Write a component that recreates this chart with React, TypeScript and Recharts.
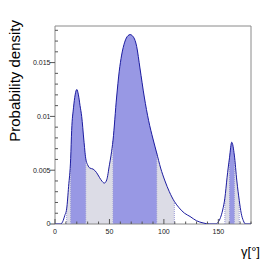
import React from 'react';
import { ComposedChart, Area, Line, XAxis, YAxis, ReferenceLine, ReferenceArea, Label } from 'recharts';

const angles = [0, 5, 7, 9, 10.7, 12.5, 14.4, 15.3, 17, 18.5, 20, 21.5, 23, 24.5, 26.5, 28.2, 30, 32, 35, 38, 41, 43, 45.3, 47.5, 50, 51.5, 53.3, 56.6, 59, 61.2, 64, 67, 69, 71, 75, 78, 82, 86, 90, 93.4, 97, 101, 105, 109.6, 114, 119, 124, 130, 136, 142, 148, 150, 152, 154, 156, 158, 160.3, 162.3, 164.7, 167, 169.2, 171, 173, 175, 180];
const density = [0, 0, 0.0002, 0.0008, 0.0014, 0.0035, 0.0061, 0.0087, 0.0108, 0.012, 0.0125, 0.012, 0.011, 0.01, 0.0078, 0.0061, 0.0055, 0.0052, 0.0051, 0.0048, 0.0043, 0.004, 0.0038, 0.0041, 0.0055, 0.0064, 0.0078, 0.0118, 0.0142, 0.0157, 0.0169, 0.0175, 0.0176, 0.0175, 0.0165, 0.0145, 0.0118, 0.0096, 0.0079, 0.0066, 0.0052, 0.004, 0.003, 0.0021, 0.0015, 0.001, 0.0007, 0.0003, 0.0001, 0, 0, 0.0002, 0.0006, 0.0013, 0.0024, 0.0043, 0.0062, 0.0076, 0.0064, 0.004, 0.0022, 0.001, 0.0003, 0, 0];

const lightIntervals: number[][] = [[10.7, 109.6], [156, 169.2]];
const darkIntervals: number[][] = [[14.4, 28.2], [53.3, 93.4], [160.3, 164.7]];

const xTicks = [0, 10, 20, 30, 40, 50, 60, 70, 80, 90, 100, 110, 120, 130, 140, 150, 160, 170, 180];
const xMajor = [0, 50, 100, 150];
const yTicks = [0, 0.001, 0.002, 0.003, 0.004, 0.005, 0.006, 0.007, 0.008, 0.009, 0.01, 0.011, 0.012, 0.013, 0.014, 0.015, 0.016, 0.017, 0.018];
const yMajor = [0, 0.005, 0.01, 0.015];
const yMajorLabels = ['0', '0.005', '0.01', '0.015'];
const yMax = 0.0184;

const inside = (x: number, ivs: number[][]) => ivs.some(([a, b]) => x >= a - 1e-9 && x <= b + 1e-9);

const data = angles.map((a, i) => ({
  a,
  d: density[i],
  light: inside(a, lightIntervals) ? density[i] : null,
  dark: inside(a, darkIntervals) ? density[i] : null,
}));

const densityAt = (x: number) => {
  const i = angles.indexOf(x);
  return i >= 0 ? density[i] : 0;
};

const boundaries: number[] = [...lightIntervals.flat(), ...darkIntervals.flat()];

const FONT = '"Liberation Sans", Arial, Helvetica, sans-serif';

const XTick = (props: any) => {
  const { x, y, payload } = props;
  const v = payload.value;
  const major = xMajor.includes(v);
  return (
    <g>
      <line x1={x} x2={x} y1={y} y2={y - (major ? 5 : 2.5)} stroke="#555" strokeWidth={1} />
      {major && (
        <text x={x} y={y + 9.5} textAnchor="middle" fontSize={7} fontFamily={FONT} fill="#222">
          {v}
        </text>
      )}
    </g>
  );
};

const YTick = (props: any) => {
  const { x, y, payload } = props;
  const v = payload.value;
  const idx = yMajor.findIndex((m) => Math.abs(m - v) < 1e-9);
  const major = idx >= 0;
  return (
    <g>
      {major ? (
        <line x1={x} x2={x - 5} y1={y} y2={y} stroke="#555" strokeWidth={1} />
      ) : (
        <line x1={x} x2={x + 3} y1={y} y2={y} stroke="#555" strokeWidth={1} />
      )}
      {major && (
        <text x={x - 4.5} y={y} dy="0.35em" textAnchor="end" fontSize={7} fontFamily={FONT} fill="#222">
          {yMajorLabels[idx]}
        </text>
      )}
    </g>
  );
};

const YTitle = (props: any) => {
  const vb = props.viewBox;
  const tx = vb.x + 20;
  const ty = vb.y - 6;
  return (
    <text x={tx} y={ty} transform={`rotate(-90 ${tx} ${ty})`} textAnchor="end" fontSize={15} fontFamily={FONT} fill="#000">
      Probability density
    </text>
  );
};

const XTitle = (props: any) => {
  const vb = props.viewBox;
  const tx = vb.x + vb.width + 9;
  const ty = vb.y + 32;
  return (
    <text x={tx} y={ty} textAnchor="end" fontSize={13} fontFamily={FONT} fill="#000">
      γ[°]
    </text>
  );
};

export default function App() {
  return (
    <div style={{ position: 'absolute', left: 0, top: 0, background: '#fff' }}>
      <ComposedChart width={279} height={265} data={data} margin={{ top: 26, right: 28, bottom: 0, left: 0 }}>
        <XAxis
          dataKey="a"
          type="number"
          domain={[0, 180]}
          ticks={xTicks}
          interval={0}
          allowDataOverflow
          height={41}
          tickSize={0}
          tickMargin={0}
          tickLine={false}
          axisLine={false}
          tick={<XTick />}
        >
          <Label content={<XTitle />} />
        </XAxis>
        <YAxis
          type="number"
          domain={[0, yMax]}
          ticks={yTicks}
          interval={0}
          allowDataOverflow
          width={55}
          tickSize={0}
          tickMargin={0}
          tickLine={false}
          axisLine={false}
          tick={<YTick />}
        >
          <Label content={<YTitle />} />
        </YAxis>
        <Area type="monotone" dataKey="light" stroke="none" fill="#dcdce6" fillOpacity={1} isAnimationActive={false} connectNulls={false} baseValue={0} />
        <Area type="monotone" dataKey="dark" stroke="none" fill="#9898e4" fillOpacity={1} isAnimationActive={false} connectNulls={false} baseValue={0} />
        {boundaries.map((b) => (
          <ReferenceLine
            key={b}
            segment={[{ x: b, y: 0 }, { x: b, y: densityAt(b) }]}
            stroke="#9a9ad6"
            strokeWidth={1}
            strokeDasharray="1 1"
          />
        ))}
        <Line type="monotone" dataKey="d" stroke="#1c1ca0" strokeWidth={1} dot={false} isAnimationActive={false} />
        <ReferenceArea x1={0} x2={180} y1={0} y2={yMax} fill="none" stroke="#8a8a8a" strokeWidth={1} />
      </ComposedChart>
    </div>
  );
}
